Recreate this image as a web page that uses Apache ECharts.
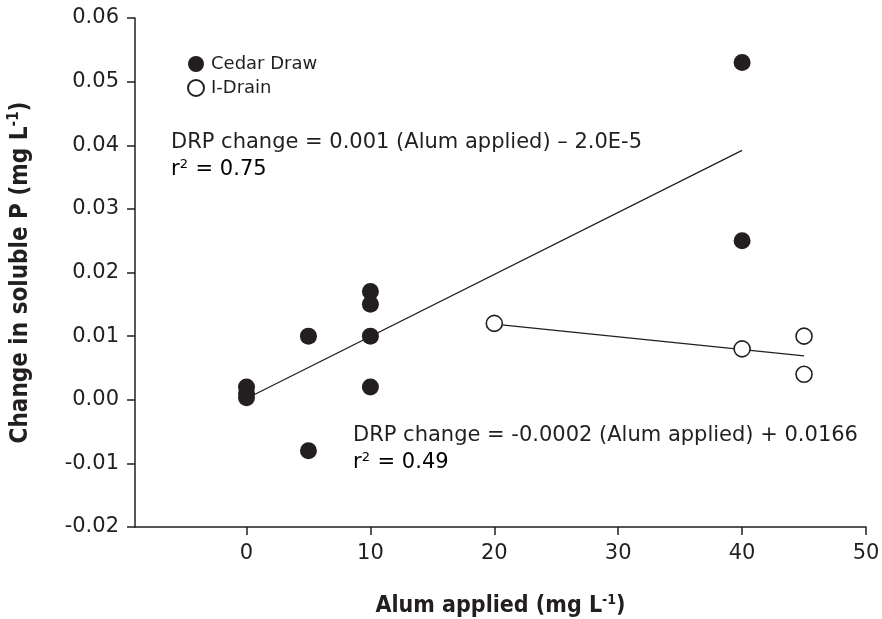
<!DOCTYPE html>
<html>
<head>
<meta charset="utf-8">
<script src="https://cdn.jsdelivr.net/npm/echarts@6/dist/echarts.min.js"></script>
<style>
  html, body { margin: 0; padding: 0; background: #fff; }
  #main { width: 882px; height: 619px; }
</style>
</head>
<body>
<div id="main"></div>
<script>
// data
const cedarDraw = [
  [0, 0.002], [0, 0.001], [0, 0.0003],
  [5, 0.010], [5, -0.008],
  [10, 0.017], [10, 0.015], [10, 0.010], [10, 0.002],
  [40, 0.053], [40, 0.025]
];
const iDrain = [
  [20, 0.012], [40, 0.008], [45, 0.010], [45, 0.004]
];
const cedarFit = [[0, 0.0002], [40, 0.0392]];
const iDrainFit = [[20, 0.0119], [45, 0.0069]];
const xTicks = [0, 10, 20, 30, 40, 50];

const ink = '#231f20';
const font = '"DejaVu Sans", Arial, sans-serif';
const boldFont = '"Liberation Sans Narrow", "DejaVu Sans Condensed", Arial, sans-serif';

const myChart = echarts.init(document.getElementById('main'));

// little helper for the r² lines
function rLabel(value) {
  return {
    text: '{a|r}{s|2}{a| = ' + value + '}',
    rich: {
      a: { fontFamily: font, fontSize: 21, color: ink, letterSpacing: 0.75 },
      s: { fontFamily: font, fontSize: 13, color: ink, verticalAlign: 'top', padding: [0, 1, 10, 0] }
    }
  };
}

const option = {
  animation: false,
  backgroundColor: '#fff',
  grid: { left: 135, right: 16, top: 18, bottom: 92, containLabel: false, outerBoundsMode: 'none' },
  legend: {
    data: ['Cedar Draw', 'I-Drain'],
    orient: 'vertical',
    left: 182,
    top: 50,
    itemWidth: 16,
    itemHeight: 16,
    itemGap: 6,
    textStyle: { fontFamily: font, fontSize: 18, color: ink, padding: [0, 0, 0, 2] }
  },
  xAxis: {
    type: 'value',
    min: -9,
    max: 50,
    axisLine: { onZero: false, lineStyle: { color: ink, width: 1.5 } },
    axisTick: { show: true, length: 8, customValues: xTicks, lineStyle: { color: ink, width: 1.5 } },
    axisLabel: { customValues: xTicks, margin: 16, fontFamily: font, fontSize: 21, color: ink },
    splitLine: { show: false },
    name: '{b|Alum applied (mg L}{s|-1}{b|)}',
    nameLocation: 'middle',
    nameGap: 66,
    nameTextStyle: {
      rich: {
        b: { fontFamily: boldFont, fontWeight: 'bold', fontSize: 23, color: ink },
        s: { fontFamily: boldFont, fontWeight: 'bold', fontSize: 14, color: ink, verticalAlign: 'top', padding: [0, 0, 12, 0] }
      }
    }
  },
  yAxis: {
    type: 'value',
    min: -0.02,
    max: 0.06,
    interval: 0.01,
    axisLine: { onZero: false, lineStyle: { color: ink, width: 1.5 } },
    axisTick: { show: true, length: 8, lineStyle: { color: ink, width: 1.5 } },
    axisLabel: {
      margin: 16, fontFamily: font, fontSize: 21, color: ink,
      formatter: v => (Math.abs(v) < 1e-9 ? 0 : v).toFixed(2)
    },
    splitLine: { show: false },
    name: '{b|Change in soluble P (mg L}{s|-1}{b|)}',
    nameLocation: 'middle',
    nameGap: 100,
    nameRotate: 90,
    nameTextStyle: {
      rich: {
        b: { fontFamily: boldFont, fontWeight: 'bold', fontSize: 24, color: ink },
        s: { fontFamily: boldFont, fontWeight: 'bold', fontSize: 15, color: ink, verticalAlign: 'top', padding: [0, 0, 13, 0] }
      }
    }
  },
  series: [
    {
      name: 'Cedar Fit', type: 'line', data: cedarFit, symbol: 'none',
      lineStyle: { color: ink, width: 1.3 }, z: 1, silent: true
    },
    {
      name: 'I-Drain Fit', type: 'line', data: iDrainFit, symbol: 'none',
      lineStyle: { color: ink, width: 1.3 }, z: 1, silent: true
    },
    {
      name: 'Cedar Draw', type: 'scatter', data: cedarDraw, symbol: 'circle', symbolSize: 17,
      itemStyle: { color: ink, opacity: 1 }, z: 3
    },
    {
      name: 'I-Drain', type: 'scatter', data: iDrain, symbol: 'circle', symbolSize: 16,
      itemStyle: { color: '#fff', borderColor: ink, borderWidth: 1.6, opacity: 1 }, z: 3
    }
  ],
  graphic: [
    {
      type: 'text', left: 171, top: 132,
      style: { text: 'DRP change = 0.001 (Alum applied) – 2.0E-5', fontFamily: font, fontSize: 21, fill: ink, letterSpacing: 0.75 }
    },
    { type: 'text', left: 171, top: 158, style: rLabel('0.75') },
    {
      type: 'text', left: 353, top: 425,
      style: { text: 'DRP change = -0.0002 (Alum applied) + 0.0166', fontFamily: font, fontSize: 21, fill: ink, letterSpacing: 0.75 }
    },
    { type: 'text', left: 353, top: 451, style: rLabel('0.49') }
  ]
};

myChart.setOption(option);
</script>
</body>
</html>
